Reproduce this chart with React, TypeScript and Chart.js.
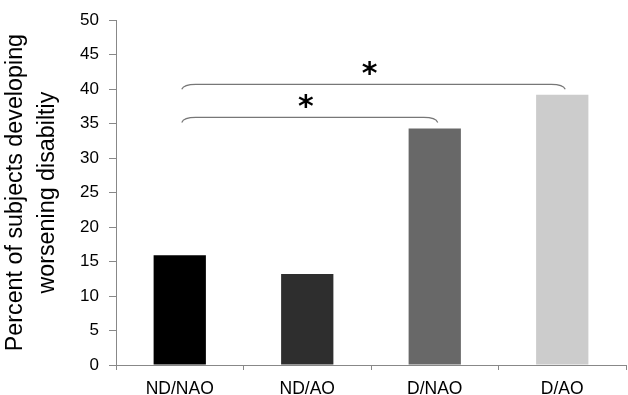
import React, { useEffect, useRef } from "react";
import { Chart, registerables } from "chart.js";

Chart.register(...registerables);

const categories = ["ND/NAO", "ND/AO", "D/NAO", "D/AO"];
const percentValues = [15.9, 13.2, 34.3, 39.2];
const barColors = ["#000000", "#2e2e2e", "#686868", "#cccccc"];
const yTicks = [0, 5, 10, 15, 20, 25, 30, 35, 40, 45, 50];
const bracketFrom = [0, 0];
const bracketTo = [2, 3];
const bracketLevel = [35.9, 40.7];
const bracketLabel = ["*", "*"];
const yTitle = ["Percent of subjects developing", "worsening disabiltiy"];

const bracketPlugin = {
  id: "brackets",
  afterDatasetsDraw(chart: any) {
    const { ctx, scales } = chart;
    const xs = scales.x;
    const ys = scales.y;
    ctx.save();
    for (let i = 0; i < bracketFrom.length; i++) {
      const x1 = xs.getPixelForValue(bracketFrom[i]) + 2;
      const x2 = xs.getPixelForValue(bracketTo[i]) + 3;
      const yTop = ys.getPixelForValue(bracketLevel[i]);
      const yEnd = yTop + 5;
      ctx.beginPath();
      ctx.strokeStyle = "#777777";
      ctx.lineWidth = 1.2;
      ctx.moveTo(x1, yEnd);
      ctx.quadraticCurveTo(x1 + 2, yTop, x1 + 14, yTop);
      ctx.lineTo(x2 - 14, yTop);
      ctx.quadraticCurveTo(x2 - 2, yTop, x2, yEnd);
      ctx.stroke();
      ctx.fillStyle = "#000000";
      ctx.font = "bold 30px 'DejaVu Sans'";
      ctx.textAlign = "center";
      ctx.textBaseline = "middle";
      ctx.fillText(bracketLabel[i], (x1 + x2) / 2 - 4, yTop - 9);
    }
    ctx.restore();
  },
};

export default function App() {
  const ref = useRef<HTMLCanvasElement>(null);
  useEffect(() => {
    const chart = new Chart(ref.current as HTMLCanvasElement, {
      type: "bar",
      data: {
        labels: categories,
        datasets: [
          {
            data: percentValues,
            backgroundColor: barColors,
            borderWidth: 0,
            barPercentage: 0.41,
            categoryPercentage: 1,
          },
        ],
      },
      options: {
        animation: false,
        responsive: false,
        maintainAspectRatio: false,
        layout: { padding: { top: 20, right: 2, left: 0, bottom: 0 } },
        plugins: { legend: { display: false }, tooltip: { enabled: false } },
        scales: {
          x: {
            offset: true,
            grid: {
              offset: true,
              drawOnChartArea: false,
              drawTicks: true,
              tickLength: 5,
              color: "#888888",
            },
            border: { color: "#888888", width: 1 },
            ticks: {
              color: "#000000",
              padding: 9,
              font: { family: "'Liberation Sans', Arial, sans-serif", size: 17.5 },
            },
            afterFit(s: any) {
              s.height = 30;
            },
          },
          y: {
            min: 0,
            max: 50,
            afterBuildTicks(s: any) {
              s.ticks = yTicks.map((v) => ({ value: v }));
            },
            grid: {
              drawOnChartArea: false,
              drawTicks: true,
              tickLength: 7,
              color: "#888888",
            },
            border: { color: "#888888", width: 1 },
            ticks: {
              color: "#000000",
              padding: 10,
              font: { family: "'Liberation Sans', Arial, sans-serif", size: 17 },
            },
            title: {
              display: true,
              text: yTitle,
              color: "#000000",
              padding: { top: 0, bottom: 0 },
              font: {
                family: "'Liberation Sans', Arial, sans-serif",
                size: 23.3,
                lineHeight: 1.35,
              },
            },
            afterFit(s: any) {
              s.width = 116;
            },
          },
        },
      },
      plugins: [bracketPlugin],
    });
    return () => chart.destroy();
  }, []);
  return (
    <div style={{ position: "fixed", left: 0, top: 0, width: 628, height: 395, background: "#fff" }}>
      <canvas ref={ref} width={628} height={395} style={{ width: 628, height: 395 }} />
    </div>
  );
}
